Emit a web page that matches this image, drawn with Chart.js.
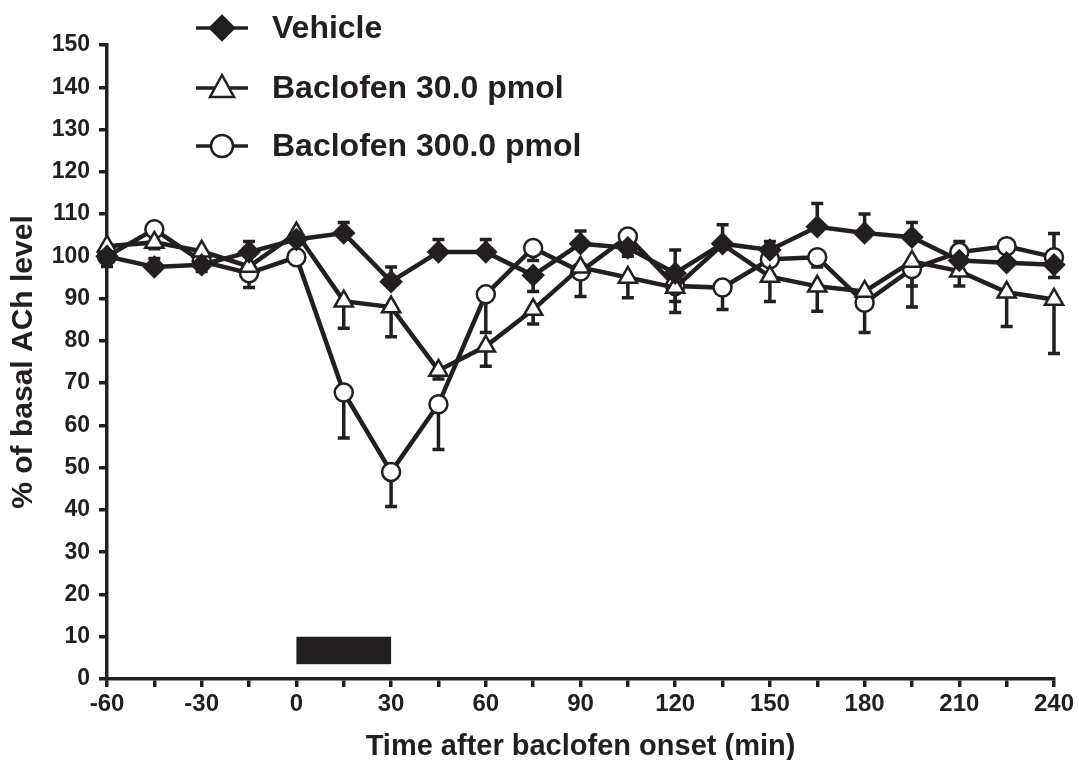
<!DOCTYPE html>
<html>
<head>
<meta charset="utf-8">
<script src="https://cdn.jsdelivr.net/npm/chart.js@4/dist/chart.umd.min.js"></script>
<style>
html,body{margin:0;padding:0;background:#fff;}
#wrap{width:1079px;height:760px;position:relative;}
</style>
</head>
<body>
<div id="wrap"><canvas id="c" width="1079" height="760"></canvas></div>
<script>
// ---- data ----
const timePoints = [-60,-45,-30,-15,0,15,30,45,60,75,90,105,120,135,150,165,180,195,210,225,240];

const seriesNames = ['Vehicle','Baclofen 30.0 pmol','Baclofen 300.0 pmol'];

const vehicle        = [100,97.5,98,101,104,105.5,94,101,101,95.5,103,102,96,103,101.5,107,105.5,104.5,99,98.5,98];
const vehicleErrUp   = [0,2,0,2.5,0,2.5,3.5,3,3,0,3,0,5.5,4.5,2,5.5,4.5,3.5,0,0,0];
const vehicleErrDown = [0,0,0,0,0,0,0,0,0,3.8,0,2,0,0,0,0,0,0,0,0,3];

const bac30        = [102.4,103.3,101.2,97.6,105.5,89.4,88,73,78.7,87.4,97.4,95,92.6,102.8,95.2,92.9,91.7,98.8,96.5,91.5,89.8];
const bac30ErrUp   = [0,0,0,0,0,0,0,0,0,0,0,0,0,0,0,0,0,0,0,0,0];
const bac30ErrDown = [0,1.5,0,0,0,6.4,7,2,4.7,3.4,6.9,4.8,5.9,0,5.9,5.9,0,10.8,3.5,8.1,12.8];

const bac300        = [100,106.4,98.8,96,99.8,67.8,49,65,91,102,96.4,104.7,93,92.6,99.3,99.8,89,97,101,102.4,99.8];
const bac300ErrUp   = [0,0,0,0,0,0,0,0,0,0,0,0,0,0,0,0,0,0,2.5,0,5.6];
const bac300ErrDown = [2.4,0,2.4,3.4,0,10.8,8.2,10.7,9,3,0,0,3.7,5.2,0,2.3,7,4,0,0,0];

const xTickValues = [-60,-30,0,30,60,90,120,150,180,210,240];
const xTickLabels = ['-60','-30','0','30','60','90','120','150','180','210','240'];

const stimulusStart = 0, stimulusEnd = 30;
const stimulusLow = 3.5, stimulusHigh = 10;

const xTitle = 'Time after baclofen onset (min)';
const yTitle = '% of basal ACh level';

// ---- styles ----
const INK = '#231f20';
const FONT = '"Liberation Sans", Arial, Helvetica, sans-serif';

function pts(vals){ return timePoints.map((t,i)=>({x:t,y:vals[i]})); }

const errSets = [
  {up: vehicleErrUp, down: vehicleErrDown, vals: vehicle},
  {up: bac30ErrUp, down: bac30ErrDown, vals: bac30},
  {up: bac300ErrUp, down: bac300ErrDown, vals: bac300}
];

const errorBarPlugin = {
  id: 'errbars',
  beforeDatasetsDraw(chart){
    const ctx = chart.ctx, xs = chart.scales.x, ys = chart.scales.y;
    ctx.save();
    ctx.fillStyle = INK;
    const bx0 = xs.getPixelForValue(stimulusStart), bx1 = xs.getPixelForValue(stimulusEnd);
    const by0 = ys.getPixelForValue(stimulusHigh), by1 = ys.getPixelForValue(stimulusLow);
    ctx.fillRect(bx0, by0, bx1-bx0, by1-by0);
    ctx.strokeStyle = INK;
    ctx.lineWidth = 3.5;
    ctx.lineCap = 'butt';
    const cap = 6;
    errSets.forEach(s=>{
      timePoints.forEach((t,i)=>{
        const px = xs.getPixelForValue(t);
        const py = ys.getPixelForValue(s.vals[i]);
        [[s.up[i],1],[s.down[i],-1]].forEach(([e,dir])=>{
          if(!e) return;
          const ey = ys.getPixelForValue(s.vals[i] + dir*e);
          ctx.beginPath();
          ctx.moveTo(px, py); ctx.lineTo(px, ey);
          ctx.moveTo(px-cap, ey); ctx.lineTo(px+cap, ey);
          ctx.stroke();
        });
      });
    });
    ctx.restore();
  }
};

const legendPlugin = {
  id: 'customLegend',
  afterDraw(chart){
    const ctx = chart.ctx;
    ctx.save();
    const rows = [
      {y: 28, text: seriesNames[0], shape:'diamond'},
      {y: 88, text: seriesNames[1], shape:'triangle'},
      {y: 146, text: seriesNames[2], shape:'circle'}
    ];
    rows.forEach(r=>{
      ctx.strokeStyle = INK; ctx.lineWidth = 3.5;
      ctx.beginPath(); ctx.moveTo(196, r.y); ctx.lineTo(248, r.y); ctx.stroke();
      const cx = 222, cy = r.y;
      ctx.lineWidth = 2.5;
      ctx.beginPath();
      if(r.shape==='diamond'){
        ctx.moveTo(cx, cy-12); ctx.lineTo(cx+12, cy); ctx.lineTo(cx, cy+12); ctx.lineTo(cx-12, cy); ctx.closePath();
        ctx.fillStyle = INK; ctx.fill(); ctx.stroke();
      } else if(r.shape==='triangle'){
        ctx.moveTo(cx, cy-13); ctx.lineTo(cx+12, cy+9); ctx.lineTo(cx-12, cy+9); ctx.closePath();
        ctx.fillStyle = '#fff'; ctx.fill(); ctx.stroke();
      } else {
        ctx.arc(cx, cy, 11, 0, Math.PI*2);
        ctx.fillStyle = '#fff'; ctx.fill(); ctx.stroke();
      }
      ctx.fillStyle = INK;
      ctx.font = 'bold 32px ' + FONT;
      ctx.textBaseline = 'middle';
      ctx.textAlign = 'left';
      ctx.fillText(r.text, 272, r.y + 1);
    });
    ctx.restore();
  }
};

const common = {
  borderColor: INK,
  borderWidth: 4.5,
  pointBorderColor: INK,
  pointBorderWidth: 2.5,
  showLine: true,
  tension: 0,
  clip: false
};

new Chart(document.getElementById('c'), {
  type: 'scatter',
  data: {
    datasets: [
      Object.assign({}, common, {label: seriesNames[0], data: pts(vehicle), pointStyle:'rectRot', pointRadius: 10, pointBackgroundColor: INK}),
      Object.assign({}, common, {label: seriesNames[1], data: pts(bac30), pointStyle:'triangle', pointRadius: 10.5, pointBackgroundColor: '#fff'}),
      Object.assign({}, common, {label: seriesNames[2], data: pts(bac300), pointStyle:'circle', pointRadius: 9, pointBackgroundColor: '#fff'})
    ]
  },
  options: {
    responsive: false,
    animation: false,
    events: [],
    layout: {padding: {top: 45, right: 25, bottom: 0, left: 0}},
    plugins: {legend: {display:false}, tooltip: {enabled:false}},
    scales: {
      x: {
        type: 'linear',
        min: -60, max: 240,
        afterFit(s){ s.height = 81; },
        afterBuildTicks(s){ s.ticks = timePoints.map(v=>({value:v})); },
        ticks: {
          color: INK,
          font: {family: FONT, size: 24, weight: 'bold'},
          padding: 3,
          maxRotation: 0,
          autoSkip: false,
          callback(v){ const i = xTickValues.indexOf(v); return i >= 0 ? xTickLabels[i] : ''; }
        },
        grid: {display: true, drawOnChartArea: false, drawTicks: true, tickLength: 8, lineWidth: 3.5, color: INK, tickColor: INK},
        border: {display: true, width: 3.5, color: INK},
        title: {display: true, text: xTitle, color: INK, font: {family: FONT, size: 29, weight: 'bold', lineHeight: 0.9}, padding: {top: 0, bottom: 0}}
      },
      y: {
        min: 0, max: 150,
        afterFit(s){ s.width = 107; },
        ticks: {
          stepSize: 10,
          color: INK,
          font: {family: FONT, size: 23, weight: 'bold'},
          padding: 9
        },
        grid: {display: true, drawOnChartArea: false, drawTicks: true, tickLength: 8, lineWidth: 3.5, color: INK, tickColor: INK},
        border: {display: true, width: 3.5, color: INK},
        title: {display: true, text: yTitle, color: INK, font: {family: FONT, size: 30, weight: 'bold', lineHeight: 1.2}, padding: {top: 6, bottom: 0}}
      }
    }
  },
  plugins: [errorBarPlugin, legendPlugin]
});
</script>
</body>
</html>
